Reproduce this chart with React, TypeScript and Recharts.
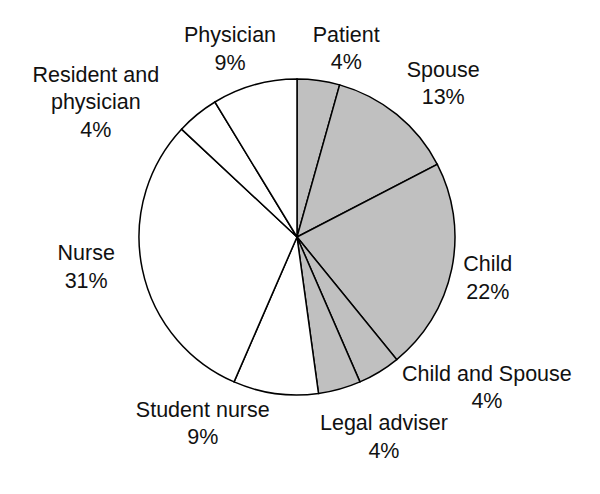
import { PieChart, Pie, Cell } from 'recharts';

// share of respondents, read clockwise from 12 o'clock
const categories = [
  'Patient',
  'Spouse',
  'Child',
  'Child and Spouse',
  'Legal adviser',
  'Student nurse',
  'Nurse',
  'Resident and\nphysician',
  'Physician',
];
const counts = [1, 3, 5, 1, 1, 2, 7, 1, 2];
const percentLabels = ['4%', '13%', '22%', '4%', '4%', '9%', '31%', '4%', '9%'];
const isFamily = [true, true, true, true, true, false, false, false, false];

const data = categories.map((name, i) => ({
  name,
  value: counts[i],
  pct: percentLabels[i],
}));

// labels were hand-placed in the original, so each gets a small nudge
const LABEL_NUDGE: [number, number][] = [
  [22, 9],
  [20, 1],
  [-5, 0],
  [86, -21],
  [33, 7],
  [-67, -12],
  [-15, -11],
  [-75, 20],
  [-13, 4],
];

const RADIAN = Math.PI / 180;
const LINE_H = 27.5;

function renderLabel(props: any) {
  const { cx, cy, midAngle, outerRadius, index } = props;
  const r = outerRadius + 42;
  const [dx, dy] = LABEL_NUDGE[index];
  const x = cx + r * Math.cos(-midAngle * RADIAN) + dx;
  const yc = cy + r * Math.sin(-midAngle * RADIAN) + dy;
  const lines = [...data[index].name.split('\n'), data[index].pct];
  const firstBase = yc - ((lines.length - 1) * LINE_H) / 2 + 7.5;
  return (
    <text
      key={`lbl-${index}`}
      x={x}
      y={firstBase}
      textAnchor="middle"
      fill="#111"
      fontSize={21.5}
      fontFamily="'Liberation Sans', Arial, sans-serif"
    >
      {lines.map((ln, i) => (
        <tspan key={i} x={x} y={firstBase + i * LINE_H}>
          {ln}
        </tspan>
      ))}
    </text>
  );
}

export default function App() {
  return (
    <div style={{ position: 'absolute', left: 0, top: 0, background: '#fff' }}>
      <PieChart width={600} height={494} margin={{ top: 0, right: 0, bottom: 0, left: 0 }}>
        <Pie
          data={data}
          dataKey="value"
          cx={297}
          cy={237}
          outerRadius={158}
          startAngle={90}
          endAngle={-270}
          stroke="#000"
          strokeWidth={1.5}
          label={renderLabel}
          labelLine={false}
          isAnimationActive={false}
        >
          {data.map((entry, index) => (
            <Cell key={`cell-${index}`} fill={isFamily[index] ? '#C0C0C0' : '#FFFFFF'} />
          ))}
        </Pie>
      </PieChart>
    </div>
  );
}
